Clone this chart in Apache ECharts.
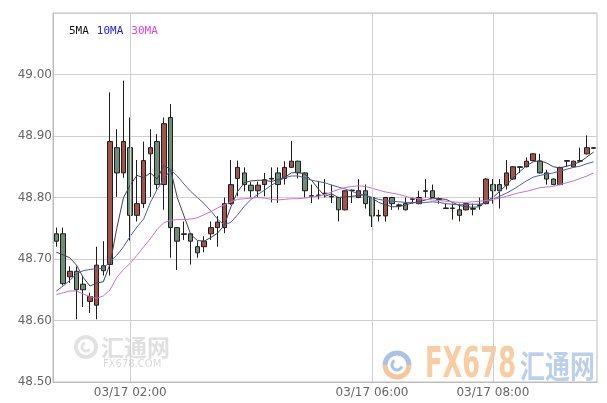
<!DOCTYPE html>
<html><head><meta charset="utf-8">
<script src="https://cdn.jsdelivr.net/npm/echarts@6/dist/echarts.min.js"></script>
<style>html,body{margin:0;padding:0;background:#fff}#c{width:607px;height:403px}</style>
</head><body><div id="c"></div>
<script>
// ---- data ----
const opens  = [48.741,48.741,48.671,48.680,48.659,48.631,48.625,48.689,48.691,48.881,48.840,48.881,48.771,48.790,48.871,48.891,48.821,48.930,48.751,48.741,48.741,48.720,48.720,48.741,48.751,48.751,48.790,48.831,48.840,48.820,48.811,48.821,48.831,48.840,48.831,48.849,48.859,48.840,48.803,48.804,48.807,48.802,48.800,48.780,48.812,48.800,48.811,48.800,48.771,48.770,48.800,48.788,48.790,48.798,48.790,48.811,48.811,48.798,48.783,48.783,48.780,48.780,48.782,48.788,48.790,48.821,48.821,48.820,48.830,48.850,48.850,48.860,48.859,48.840,48.830,48.821,48.860,48.850,48.860,48.871,48.881];
const closes = [48.729,48.660,48.680,48.650,48.650,48.639,48.690,48.681,48.891,48.840,48.891,48.771,48.790,48.860,48.881,48.821,48.920,48.751,48.729,48.740,48.729,48.710,48.729,48.751,48.760,48.790,48.821,48.849,48.821,48.811,48.820,48.829,48.830,48.821,48.849,48.859,48.840,48.811,48.802,48.803,48.806,48.801,48.780,48.811,48.811,48.811,48.790,48.770,48.770,48.800,48.790,48.787,48.780,48.797,48.800,48.810,48.800,48.797,48.782,48.782,48.771,48.790,48.781,48.787,48.830,48.811,48.811,48.840,48.850,48.849,48.859,48.871,48.840,48.830,48.821,48.849,48.859,48.859,48.859,48.881,48.880];
const lows   = [48.720,48.657,48.661,48.602,48.622,48.612,48.602,48.673,48.673,48.801,48.832,48.730,48.761,48.783,48.801,48.813,48.780,48.702,48.682,48.731,48.691,48.702,48.711,48.731,48.720,48.742,48.788,48.802,48.810,48.800,48.801,48.802,48.792,48.791,48.821,48.848,48.831,48.800,48.791,48.797,48.800,48.791,48.761,48.779,48.791,48.799,48.782,48.752,48.761,48.761,48.780,48.780,48.779,48.790,48.789,48.800,48.799,48.790,48.782,48.764,48.761,48.779,48.771,48.780,48.789,48.790,48.782,48.813,48.829,48.840,48.849,48.859,48.839,48.821,48.820,48.820,48.850,48.849,48.858,48.870,48.879];
const highs  = [48.751,48.751,48.688,48.688,48.672,48.645,48.720,48.729,48.971,48.911,48.990,48.930,48.861,48.891,48.911,48.903,48.930,48.952,48.752,48.761,48.742,48.729,48.737,48.761,48.770,48.800,48.861,48.860,48.849,48.825,48.826,48.840,48.849,48.849,48.859,48.892,48.860,48.841,48.821,48.827,48.830,48.821,48.801,48.812,48.813,48.830,48.821,48.801,48.780,48.801,48.801,48.790,48.800,48.800,48.811,48.830,48.821,48.800,48.790,48.790,48.790,48.791,48.790,48.800,48.831,48.830,48.830,48.861,48.851,48.851,48.865,48.872,48.871,48.845,48.831,48.850,48.860,48.860,48.881,48.901,48.882];
const ma5  = [48.711,48.707,48.702,48.690,48.670,48.656,48.661,48.663,48.692,48.750,48.800,48.820,48.836,48.832,48.840,48.830,48.852,48.846,48.800,48.770,48.740,48.730,48.729,48.735,48.742,48.755,48.785,48.810,48.824,48.827,48.828,48.828,48.826,48.829,48.833,48.840,48.841,48.838,48.828,48.814,48.802,48.806,48.800,48.801,48.802,48.803,48.805,48.799,48.792,48.788,48.785,48.785,48.788,48.791,48.793,48.796,48.799,48.798,48.797,48.792,48.787,48.785,48.784,48.785,48.794,48.800,48.810,48.820,48.832,48.842,48.852,48.858,48.860,48.856,48.850,48.848,48.851,48.854,48.858,48.866,48.874];
const ma10 = [48.648,48.656,48.665,48.676,48.681,48.683,48.684,48.685,48.696,48.706,48.720,48.737,48.752,48.765,48.792,48.813,48.830,48.845,48.835,48.822,48.810,48.800,48.790,48.778,48.765,48.755,48.760,48.772,48.786,48.797,48.805,48.812,48.820,48.826,48.832,48.835,48.835,48.832,48.828,48.826,48.824,48.820,48.817,48.814,48.810,48.806,48.803,48.800,48.797,48.795,48.794,48.793,48.792,48.792,48.791,48.792,48.793,48.792,48.790,48.789,48.788,48.789,48.789,48.789,48.792,48.797,48.802,48.807,48.813,48.820,48.827,48.833,48.836,48.838,48.840,48.843,48.846,48.849,48.851,48.855,48.858];
const ma30 = [48.642,48.645,48.648,48.648,48.643,48.639,48.636,48.640,48.650,48.670,48.683,48.693,48.706,48.720,48.733,48.748,48.759,48.763,48.764,48.764,48.765,48.767,48.772,48.777,48.783,48.788,48.793,48.797,48.798,48.799,48.800,48.799,48.797,48.796,48.797,48.798,48.798,48.799,48.801,48.802,48.805,48.809,48.813,48.816,48.818,48.819,48.818,48.815,48.812,48.809,48.807,48.805,48.802,48.799,48.798,48.797,48.796,48.795,48.794,48.793,48.792,48.792,48.793,48.794,48.795,48.797,48.799,48.802,48.805,48.808,48.810,48.813,48.816,48.817,48.818,48.821,48.824,48.827,48.831,48.835,48.840];
const yTickLabels = ['48.50','48.60','48.70','48.80','48.90','49.00'];
const xTickLabels = ['03/17 02:00','03/17 06:00','03/17 08:00'];
const legendNames = ['5MA','10MA','30MA'];
// bar times: one bar every 400 s starting 03/17 00:46:40
function pad(n){return (n<10?'0':'')+n;}
const categories = [];
for (let i = 0; i < opens.length; i++) {
  const s = 46*60 + 40 + i*400;
  categories.push('03/17 ' + pad(Math.floor(s/3600)) + ':' + pad(Math.floor(s%3600/60)) + ':' + pad(s%60));
}
const candles = opens.map((o, i) => [o, closes[i], lows[i], highs[i]]);
const isTick = v => xTickLabels.indexOf(v.slice(0, 11)) >= 0 && v.slice(11) === ':00';

const chart = echarts.init(document.getElementById('c'), null, {renderer: 'canvas'});
chart.setOption({
  animation: false,
  backgroundColor: '#fff',
  textStyle: {fontFamily: 'DejaVu Sans'},
  grid: {left: 53, right: 10, top: 13, bottom: 21, show: true, borderColor: '#bdbdbd', borderWidth: 1},
  legend: {
    left: 59, top: 19, icon: 'none', itemWidth: 0, itemGap: 3,
    textStyle: {fontFamily: 'DejaVu Sans Mono', fontSize: 11},
    data: [
      {name: legendNames[0], textStyle: {color: '#111'}},
      {name: legendNames[1], textStyle: {color: '#2323d8'}},
      {name: legendNames[2], textStyle: {color: '#e040e0'}}
    ]
  },
  xAxis: {
    type: 'category', data: categories, boundaryGap: true,
    axisLine: {show: true, lineStyle: {color: '#bdbdbd'}},
    axisTick: {show: false},
    splitLine: {show: false},
    axisLabel: {
      color: '#666', fontSize: 12, margin: 5, hideOverlap: false,
      interval: (i, v) => isTick(v),
      formatter: v => v.slice(0, 11)
    }
  },
  yAxis: {
    type: 'value', min: 48.5, max: 49.1, interval: 0.1, scale: true,
    axisLine: {show: true, lineStyle: {color: '#bdbdbd'}},
    axisTick: {show: false},
    splitLine: {show: true, lineStyle: {color: '#cfcfcf'}},
    axisLabel: {
      color: '#666', fontSize: 12, margin: 1, padding: [0, 0, 9, 0],
      formatter: v => { const s = v.toFixed(2); return yTickLabels.indexOf(s) >= 0 ? s : ''; }
    }
  },
  graphic: [
    {type: 'circle', z: -5, silent: true, shape: {cx: 86, cy: 347, r: 10}, style: {fill: 'none', stroke: '#e2e2e2', lineWidth: 4}},
    {type: 'arc', z: -5, silent: true, shape: {cx: 86, cy: 347, r: 4, startAngle: 0.5, endAngle: 4.5}, style: {fill: 'none', stroke: '#e2e2e2', lineWidth: 3}},
    {type: 'text', z: -5, silent: true, x: 101, y: 347, style: {text: '汇通网', font: 'bold 23px "Noto Sans CJK SC"', fill: '#e0e0e0', verticalAlign: 'middle'}},
    {type: 'text', z: -5, silent: true, x: 103, y: 364, style: {text: 'FX678.COM', font: '10px "DejaVu Sans"', fill: '#dadada', verticalAlign: 'middle'}},
    {type: 'arc', z: -5, silent: true, shape: {cx: 397, cy: 365, r: 12, startAngle: 0, endAngle: Math.PI}, style: {fill: 'none', stroke: '#f7c59a', lineWidth: 5}},
    {type: 'arc', z: -5, silent: true, shape: {cx: 397, cy: 365, r: 12, startAngle: Math.PI, endAngle: 2 * Math.PI}, style: {fill: 'none', stroke: '#a9c3e6', lineWidth: 5}},
    {type: 'arc', z: -5, silent: true, shape: {cx: 397, cy: 365, r: 5, startAngle: 0.3, endAngle: 4.2}, style: {fill: 'none', stroke: '#a9c3e6', lineWidth: 3}},
    {type: 'text', z: -5, silent: true, x: 425, y: 366, scaleX: 0.68, style: {text: 'FX678', font: 'bold 42px "Liberation Sans Narrow", "DejaVu Sans Condensed"', fill: 'rgba(246,170,100,0.6)', verticalAlign: 'middle'}},
    {type: 'text', z: -5, silent: true, x: 520, y: 366, scaleX: 0.78, style: {text: '汇通网', font: 'bold 32px "Noto Sans CJK SC"', fill: 'rgba(140,175,222,0.6)', verticalAlign: 'middle'}}
  ],
  series: [
    {
      type: 'line', name: 'grid-v', data: [], z: 1, silent: true,
      markLine: {
        silent: true, symbol: ['none', 'none'], label: {show: false}, animation: false,
        lineStyle: {color: '#cfcfcf', type: 'solid', width: 1},
        data: categories.filter(isTick).map(c => ({xAxis: c}))
      }
    },
    {
      type: 'candlestick', name: 'K', data: candles, barWidth: 5, z: 3,
      itemStyle: {color: '#a3534a', color0: '#6f8c74', borderColor: '#1e1e1e', borderColor0: '#1e1e1e', borderWidth: 1}
    },
    {type: 'line', name: legendNames[0], data: ma5, symbol: 'none', z: 4, lineStyle: {color: '#3d4450', width: 1}, itemStyle: {color: '#3d4450'}},
    {type: 'line', name: legendNames[1], data: ma10, symbol: 'none', z: 4, lineStyle: {color: '#4e5ea6', width: 1}, itemStyle: {color: '#4e5ea6'}},
    {type: 'line', name: legendNames[2], data: ma30, symbol: 'none', z: 4, lineStyle: {color: '#cc6fcc', width: 1}, itemStyle: {color: '#cc6fcc'}}
  ]
});
</script></body></html>
